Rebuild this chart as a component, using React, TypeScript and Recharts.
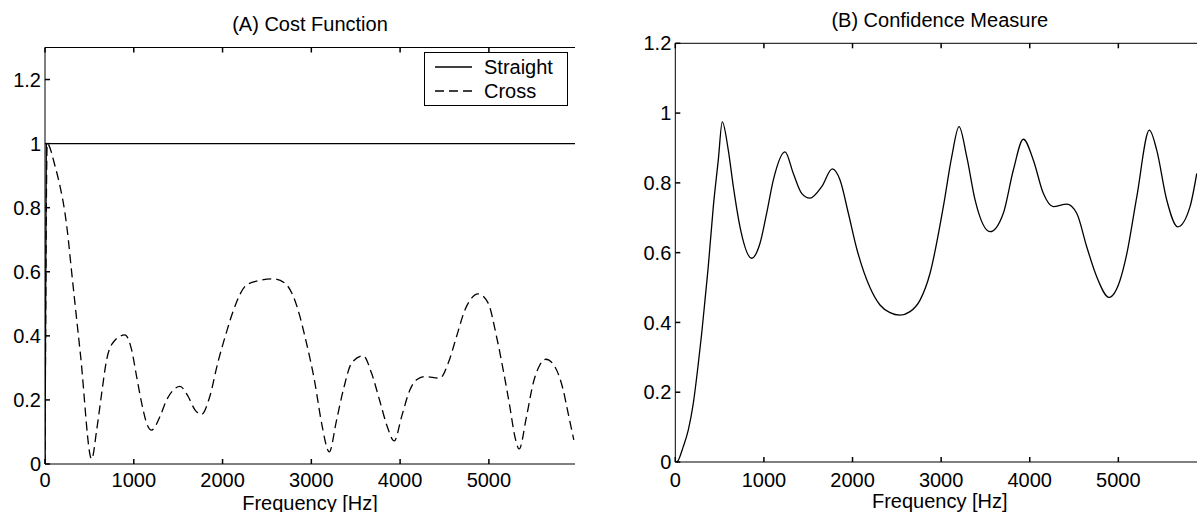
import { LineChart, Line, XAxis, YAxis, Legend } from "recharts";

const FONT = '"Liberation Sans", Arial, Helvetica, sans-serif';

const freqTicks = [0, 1000, 2000, 3000, 4000, 5000];
const costTicks = [0, 0.2, 0.4, 0.6, 0.8, 1, 1.2];
const confTicks = [0, 0.2, 0.4, 0.6, 0.8, 1, 1.2];
const legendOrder = ["Straight", "Cross"];

const straightFreq = [0, 15, 5970];
const straightVal = [0, 1, 1];

const crossFreq = [
  0, 25, 113, 169, 225, 263, 282, 400, 526, 582, 638, 694, 769, 900, 976, 1032,
  1089, 1145, 1201, 1295, 1370, 1445, 1520, 1614, 1689, 1764, 1850, 1950, 2046,
  2118, 2271, 2421, 2571, 2700, 2797, 2872, 2928, 3041, 3116, 3202, 3285, 3360,
  3454, 3585, 3679, 3773, 3855, 3934, 4017, 4110, 4186, 4279, 4448, 4542, 4636,
  4730, 4805, 4880, 4992, 5086, 5161, 5236, 5293, 5341, 5424, 5499, 5574, 5642,
  5743, 5837, 5893, 5957,
];
const crossVal = [
  0, 1.0, 0.93, 0.867, 0.783, 0.7, 0.648, 0.34, 0.015, 0.106, 0.22, 0.325, 0.38,
  0.403, 0.356, 0.273, 0.19, 0.127, 0.106, 0.148, 0.2, 0.231, 0.242, 0.21, 0.169,
  0.155, 0.205, 0.32, 0.413, 0.476, 0.559, 0.573, 0.578, 0.565, 0.523, 0.46,
  0.398, 0.252, 0.127, 0.038, 0.138, 0.231, 0.315, 0.338, 0.283, 0.195, 0.117,
  0.072, 0.148, 0.231, 0.263, 0.273, 0.268, 0.315, 0.398, 0.481, 0.518, 0.531,
  0.502, 0.398, 0.294, 0.179, 0.085, 0.047, 0.148, 0.252, 0.309, 0.327, 0.304,
  0.231, 0.158, 0.075,
];

const confFreq = [
  0, 16, 90, 147, 203, 260, 298, 335, 372, 429, 485, 530, 598, 655, 730, 862,
  956, 1031, 1106, 1238, 1332, 1426, 1520, 1652, 1772, 1859, 1953, 2047, 2197,
  2310, 2423, 2535, 2649, 2762, 2875, 3025, 3120, 3202, 3289, 3383, 3552, 3702,
  3815, 3928, 4041, 4153, 4266, 4417, 4530, 4643, 4756, 4895, 5019, 5094, 5208,
  5350, 5433, 5546, 5670, 5809, 5885,
];
const confVal = [
  0, 0, 0.044, 0.092, 0.168, 0.283, 0.369, 0.464, 0.56, 0.732, 0.865, 0.975,
  0.894, 0.789, 0.674, 0.584, 0.627, 0.713, 0.808, 0.889, 0.827, 0.77, 0.756,
  0.789, 0.84, 0.808, 0.713, 0.612, 0.5, 0.45, 0.428, 0.421, 0.431, 0.464,
  0.541, 0.732, 0.875, 0.961, 0.875, 0.751, 0.66, 0.713, 0.837, 0.925, 0.865,
  0.77, 0.732, 0.739, 0.713, 0.617, 0.531, 0.472, 0.521, 0.595, 0.76, 0.951,
  0.894, 0.751, 0.674, 0.732, 0.827,
];

const toPoints = (f: number[], v: number[]) =>
  f.map((x, i) => ({ f: x, v: v[i] }));

const straight = toPoints(straightFreq, straightVal);
const cross = toPoints(crossFreq, crossVal);
const confidence = toPoints(confFreq, confVal);

const labelStyle = { fill: "#000", fontSize: 20, fontFamily: FONT };
const TICK_LEN = 5;
const TICK_W = 1.5;

// inward ticks: the tick line is drawn by hand, pointing into the plot
const bottomTick = (margin: number) => (props: any) => {
  const x = Number(props.x);
  const y = Number(props.y);
  const axisY = y - margin;
  return (
    <g>
      <line
        x1={x}
        y1={axisY}
        x2={x}
        y2={axisY - TICK_LEN}
        stroke="#000"
        strokeWidth={TICK_W}
      />
      <text
        x={x}
        y={y}
        dy="0.71em"
        textAnchor="middle"
        fill="#000"
        fontSize={20}
        fontFamily={FONT}
      >
        {props.payload.value}
      </text>
    </g>
  );
};

const leftTick = (margin: number) => (props: any) => {
  const x = Number(props.x);
  const y = Number(props.y);
  const axisX = x + margin;
  return (
    <g>
      <line
        x1={axisX}
        y1={y}
        x2={axisX + TICK_LEN}
        y2={y}
        stroke="#000"
        strokeWidth={TICK_W}
      />
      <text
        x={x}
        y={y}
        dy="0.355em"
        textAnchor="end"
        fill="#000"
        fontSize={20}
        fontFamily={FONT}
      >
        {props.payload.value}
      </text>
    </g>
  );
};

const topTick = (props: any) => {
  const x = Number(props.x);
  const y = Number(props.y);
  return (
    <line
      x1={x}
      y1={y}
      x2={x}
      y2={y + TICK_LEN}
      stroke="#000"
      strokeWidth={TICK_W}
    />
  );
};

const rightTick = (props: any) => {
  const x = Number(props.x);
  const y = Number(props.y);
  return (
    <line
      x1={x}
      y1={y}
      x2={x - TICK_LEN}
      y2={y}
      stroke="#000"
      strokeWidth={TICK_W}
    />
  );
};

const LegendBox = (props: any) => {
  const items = [...(props.payload || [])].sort(
    (a: any, b: any) => legendOrder.indexOf(a.value) - legendOrder.indexOf(b.value)
  );
  return (
    <div
      style={{
        width: 144,
        height: 54,
        boxSizing: "border-box",
        border: "1px solid #000",
        background: "#fff",
        paddingTop: 2,
        fontFamily: FONT,
        fontSize: 20,
        color: "#000",
      }}
    >
      {items.map((it: any) => (
        <div
          key={it.value}
          style={{ display: "flex", alignItems: "center", height: 24 }}
        >
          <svg width={37} height={24} style={{ marginLeft: 10 }}>
            <line
              x1={0}
              y1={12}
              x2={37}
              y2={12}
              stroke="#000"
              strokeWidth={1.3}
              strokeDasharray={it.payload?.strokeDasharray}
            />
          </svg>
          <span style={{ marginLeft: 12, lineHeight: "24px" }}>{it.value}</span>
        </div>
      ))}
    </div>
  );
};

const App = () => {
  return (
    <div
      style={{
        position: "absolute",
        left: 0,
        top: 0,
        width: 1197,
        height: 512,
        overflow: "hidden",
        background: "#fff",
        fontFamily: FONT,
      }}
    >
      <div style={{ position: "absolute", left: 0, top: 0 }}>
        <LineChart
          width={600}
          height={512}
          margin={{ top: 0, right: 25, bottom: 0, left: 0 }}
        >
          <XAxis
            xAxisId="b"
            type="number"
            dataKey="f"
            domain={[0, 5970]}
            ticks={freqTicks}
            interval={0}
            allowDataOverflow
            tickSize={0}
            tickMargin={9}
            tickLine={false}
            height={48}
            stroke="#000"
            tick={bottomTick(9)}
            label={{
              value: "Frequency [Hz]",
              position: "insideBottom",
              offset: 2.5,
              ...labelStyle,
            }}
          />
          <XAxis
            xAxisId="t"
            orientation="top"
            type="number"
            dataKey="f"
            domain={[0, 5970]}
            ticks={freqTicks}
            interval={0}
            allowDataOverflow
            tickSize={0}
            tickMargin={0}
            tickLine={false}
            tick={topTick}
            height={47.5}
            stroke="#000"
            label={{
              value: "(A) Cost Function",
              position: "insideTop",
              offset: 16.3,
              ...labelStyle,
            }}
          />
          <YAxis
            yAxisId="l"
            type="number"
            domain={[0, 1.3]}
            ticks={costTicks}
            interval={0}
            allowDataOverflow
            tickSize={0}
            tickMargin={4}
            tickLine={false}
            width={45}
            stroke="#000"
            tick={leftTick(4)}
          />
          <YAxis
            yAxisId="r"
            orientation="right"
            type="number"
            domain={[0, 1.3]}
            ticks={costTicks}
            interval={0}
            allowDataOverflow
            tickSize={0}
            tickMargin={0}
            tickLine={false}
            tick={rightTick}
            width={0}
            stroke="#000"
          />
          <Line
            xAxisId="b"
            yAxisId="l"
            data={straight}
            dataKey="v"
            name="Straight"
            type="linear"
            stroke="#000"
            strokeWidth={1.3}
            dot={false}
            isAnimationActive={false}
          />
          <Line
            xAxisId="b"
            yAxisId="l"
            data={cross}
            dataKey="v"
            name="Cross"
            type="monotone"
            stroke="#000"
            strokeWidth={1.3}
            strokeDasharray="9 5"
            dot={false}
            isAnimationActive={false}
          />
          <Legend
            content={LegendBox}
            layout="vertical"
            align="center"
            verticalAlign="middle"
            wrapperStyle={{ left: 424, top: 52, width: 144, height: 54 }}
          />
        </LineChart>
      </div>

      <div style={{ position: "absolute", left: 600, top: 0 }}>
        <LineChart
          width={614}
          height={512}
          margin={{ top: 0, right: 9.7, bottom: 0, left: 0 }}
        >
          <XAxis
            xAxisId="b"
            type="number"
            dataKey="f"
            domain={[0, 5970]}
            ticks={freqTicks}
            interval={0}
            allowDataOverflow
            tickSize={0}
            tickMargin={10.5}
            tickLine={false}
            height={50}
            stroke="#000"
            tick={bottomTick(10.5)}
            label={{
              value: "Frequency [Hz]",
              position: "insideBottom",
              offset: 3.7,
              ...labelStyle,
            }}
          />
          <XAxis
            xAxisId="t"
            orientation="top"
            type="number"
            dataKey="f"
            domain={[0, 5970]}
            ticks={freqTicks}
            interval={0}
            allowDataOverflow
            tickSize={0}
            tickMargin={0}
            tickLine={false}
            tick={topTick}
            height={43.3}
            stroke="#000"
            label={{
              value: "(B) Confidence Measure",
              position: "insideTop",
              offset: 12.6,
              ...labelStyle,
            }}
          />
          <YAxis
            yAxisId="l"
            type="number"
            domain={[0, 1.2]}
            ticks={confTicks}
            interval={0}
            allowDataOverflow
            tickSize={0}
            tickMargin={4}
            tickLine={false}
            width={75.3}
            stroke="#000"
            tick={leftTick(4)}
          />
          <YAxis
            yAxisId="r"
            orientation="right"
            type="number"
            domain={[0, 1.2]}
            ticks={confTicks}
            interval={0}
            allowDataOverflow
            tickSize={0}
            tickMargin={0}
            tickLine={false}
            tick={rightTick}
            width={0}
            stroke="#000"
          />
          <Line
            xAxisId="b"
            yAxisId="l"
            data={confidence}
            dataKey="v"
            name="Confidence"
            type="monotone"
            stroke="#000"
            strokeWidth={1.3}
            dot={false}
            isAnimationActive={false}
          />
        </LineChart>
      </div>
    </div>
  );
};

export default App;
